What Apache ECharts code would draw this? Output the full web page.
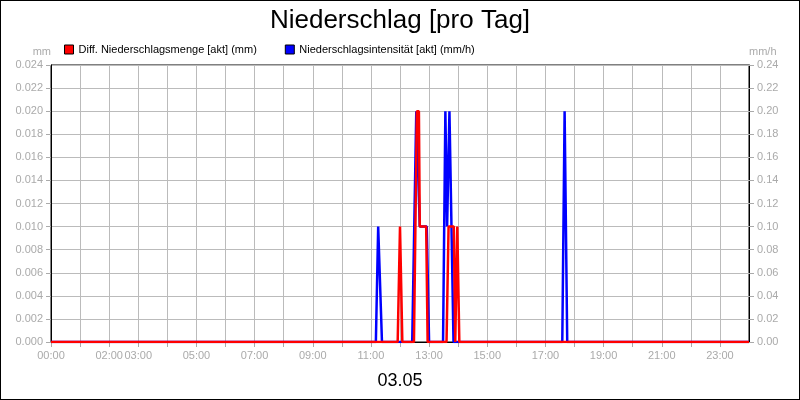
<!DOCTYPE html>
<html><head><meta charset="utf-8">
<script src="https://cdn.jsdelivr.net/npm/echarts@6/dist/echarts.min.js"></script>
<style>html,body{margin:0;padding:0;}#c{width:798px;height:398px;border:1px solid #000;}</style>
</head><body><div id="c"></div>
<script>
const hourLabels = [0,2,3,5,7,9,11,13,15,17,19,21,23];
const redData = [[0,0],[11.92,0],[12.0,0.01],[12.08,0],[12.48,0],[12.58,0.02],[12.65,0.02],[12.68,0.01],[12.9,0.01],[12.95,0],[13.6,0],[13.67,0.01],[13.85,0.01],[13.9,0],[13.93,0],[13.97,0.01],[14.04,0],[24,0]];
const blueData = [[0,0],[11.17,0],[11.25,0.1],[11.31,0.1],[11.38,0],[12.42,0],[12.56,0.2],[12.68,0.1],[12.92,0.1],[13.0,0],[13.48,0],[13.56,0.2],[13.62,0.1],[13.7,0.2],[13.74,0.2],[13.84,0],[17.58,0],[17.66,0.2],[17.75,0],[24,0]];
const chart = echarts.init(document.getElementById('c'));
const lbl = {color:'#aaa', fontSize:11, fontFamily:'Liberation Sans'};
chart.setOption({
  animation:false,
  title:[{text:'Niederschlag [pro Tag]', left:'center', top:2, textStyle:{fontSize:26, fontWeight:'normal', color:'#000', fontFamily:'Liberation Sans'}},
         {text:'03.05', left:'center', top:366, textStyle:{fontSize:18, fontWeight:'normal', color:'#000', fontFamily:'Liberation Sans'}}],
  legend:{left:58, top:38, itemWidth:9, itemHeight:9, itemGap:28, icon:'rect',
    textStyle:{fontSize:11, color:'#000', fontFamily:'Liberation Sans'},
    data:[{name:'Diff. Niederschlagsmenge [akt] (mm)', itemStyle:{color:'#f00', borderColor:'#000', borderWidth:1}},
          {name:'Niederschlagsintensität [akt] (mm/h)', itemStyle:{color:'#00f', borderColor:'#000', borderWidth:1}}]},
  grid:{left:50, right:50, top:64, bottom:57, show:true, borderColor:'#000', borderWidth:1},
  xAxis:{type:'value', min:0, max:24, interval:1,
    axisLine:{lineStyle:{color:'#000'}}, axisTick:{show:true, lineStyle:{color:'#aaa'}},
    splitLine:{lineStyle:{color:'#bbb'}},
    axisLabel:Object.assign({}, lbl, {showMaxLabel:false, formatter:v=>hourLabels.includes(v)?String(v).padStart(2,'0')+':00':''})},
  yAxis:[{type:'value', min:0, max:0.024, interval:0.002, name:'mm', nameGap:8,
     nameTextStyle:Object.assign({}, lbl, {align:'right'}),
     axisLine:{show:true, lineStyle:{color:'#000'}}, axisTick:{show:true, lineStyle:{color:'#aaa'}},
     splitLine:{lineStyle:{color:'#bbb'}}, axisLabel:Object.assign({}, lbl, {formatter:v=>v.toFixed(3)})},
    {type:'value', min:0, max:0.24, interval:0.02, name:'mm/h', nameGap:8,
     nameTextStyle:Object.assign({}, lbl, {align:'left'}),
     axisLine:{show:true, lineStyle:{color:'#000'}}, axisTick:{show:true, lineStyle:{color:'#aaa'}},
     splitLine:{show:false}, axisLabel:Object.assign({}, lbl, {formatter:v=>v.toFixed(2)})}],
  series:[
    {name:'Niederschlagsintensität [akt] (mm/h)', type:'line', yAxisIndex:1, data:blueData, showSymbol:false, lineStyle:{color:'#00f', width:2.5}, itemStyle:{color:'#00f'}},
    {name:'Diff. Niederschlagsmenge [akt] (mm)', type:'line', yAxisIndex:0, data:redData, showSymbol:false, lineStyle:{color:'#f00', width:2.5}, itemStyle:{color:'#f00'}}
  ]
});
</script></body></html>
